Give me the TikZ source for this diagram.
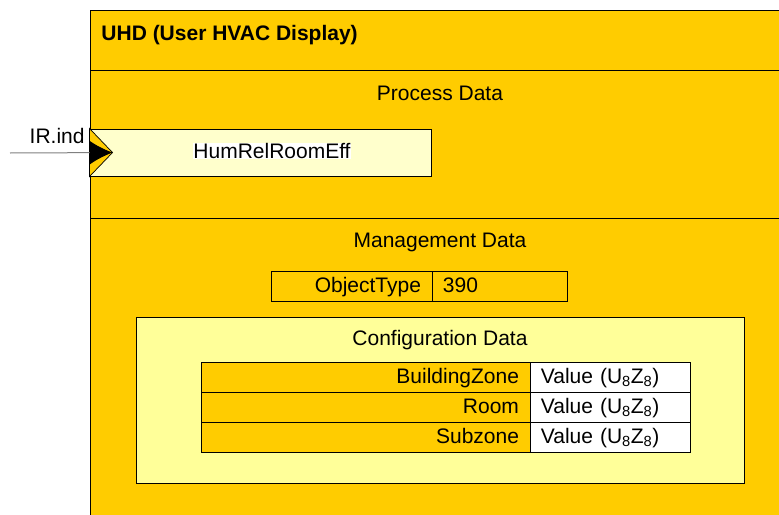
\documentclass[tikz,border=0pt]{standalone}
\usepackage{fontspec}
\setmainfont{Liberation Sans}
\usetikzlibrary{arrows.meta}
\usetikzlibrary{calc,positioning}

\definecolor{hvacorange}{HTML}{FFCC00}
\definecolor{paleyellow}{HTML}{FFFFCC}
\definecolor{confyellow}{HTML}{FFFF99}

\begin{document}
\begin{tikzpicture}[x=1pt,y=-1pt, line width=0.9pt,
  font=\fontsize{21}{25}\selectfont,
  heading/.style={anchor=base, inner sep=0pt},
  namecell/.style={draw, fill=hvacorange, inner xsep=11, inner ysep=0pt,
    text height=15, text depth=2, minimum height=30, align=right, text width=#1},
  valcell/.style={draw, fill=white, inner xsep=10, inner ysep=0pt,
    text height=15, text depth=2, minimum height=30, align=left, text width=#1}]
    \useasboundingbox (0,0) rectangle (779,514);
    % object frame, it runs out of the picture on the right and below
    \fill[hvacorange] (90,10) rectangle (800,530);
    \draw (90,530) -- (90,10) -- (800,10);
    \draw (90,70) -- (800,70);
    \draw (90,218) -- (800,218);
    \node[heading, anchor=base west, font=\fontsize{21}{25}\selectfont\bfseries] (title) at (101,40) {UHD (User HVAC Display)};

    % process data with the input
    \node[heading] (procdata) at (440,100) {Process Data};
    \node[draw, fill=paleyellow, minimum width=341, minimum height=47, inner sep=0pt] (humrel) at (260.5,152.5) {};
    \node[heading, fill=white, inner sep=0.5pt] (humreltext) at (272,158.5) {HumRelRoomEff};
    \filldraw[fill=hvacorange, line width=0.7pt] (humrel.north west) -- ++(23,24) coordinate (porttip) -- (humrel.south west) -- cycle;
    \coordinate (irin) at (10,153);
    \draw[gray, line width=1pt, -{Latex[black, length=23, width=24]}] (irin) -- (porttip);
    \node[heading, anchor=base east] (irlabel) at (85,143) {IR.ind};

    % management data
    \node[heading] (mgmtdata) at (440,247) {Management Data};
    \node[namecell=139] (objtype) at (351.5,286) {ObjectType};
    \node[valcell=115, fill=hvacorange, right=0pt of objtype] (objval) {390};

    % configuration data
    \node[draw, fill=confyellow, minimum width=608, minimum height=166] (config) at (440,400) {};
    \node[heading] (configtitle) at (440,345.5) {Configuration Data};
    \foreach \name [count=\i] in {BuildingZone,Room,Subzone}{
      \node[namecell=307] (row\i) at (365.5,347+30*\i) {\name};
      \node[valcell=140, right=0pt of row\i] (val\i) {Value (U\textsubscript{8}Z\textsubscript{8})};
    }
\end{tikzpicture}
\end{document}
